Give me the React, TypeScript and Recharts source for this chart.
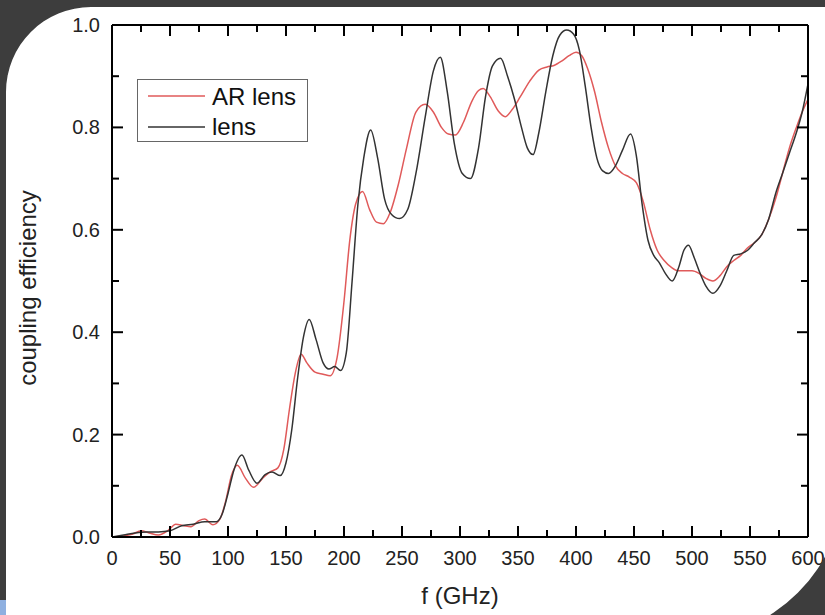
import React from "react";
import { LineChart, Line, XAxis, YAxis } from "recharts";

// AR lens (red)
const freqAR = [0, 10, 18, 25, 32, 40, 48, 55, 62, 68, 75, 80, 87, 93, 98, 103, 108, 115, 122, 130, 137, 143, 148, 153, 158, 163, 168, 175, 182, 188, 194, 200, 205, 210, 216, 222, 228, 234, 240, 247, 254, 262, 270, 277, 284, 290, 296, 303, 310, 316, 320, 326, 333, 339, 345, 352, 360, 368, 375, 381, 388, 394, 400, 405, 410, 416, 422, 428, 434, 440, 446, 452, 458, 464, 470, 476, 482, 488, 494, 500, 506, 512, 518, 524, 530, 536, 542, 548, 554, 560, 566, 572, 578, 584, 590, 595, 600];
const effAR = [0.0, 0.002, 0.006, 0.012, 0.008, 0.004, 0.012, 0.025, 0.022, 0.02, 0.032, 0.035, 0.024, 0.035, 0.07, 0.12, 0.14, 0.115, 0.097, 0.115, 0.128, 0.135, 0.17, 0.25, 0.32, 0.357, 0.34, 0.322, 0.318, 0.315, 0.35, 0.46, 0.58, 0.65, 0.675, 0.64, 0.615, 0.612, 0.635, 0.69, 0.76, 0.83, 0.845, 0.83, 0.8, 0.787, 0.785, 0.81, 0.85, 0.872, 0.876, 0.86, 0.832, 0.821, 0.835, 0.86, 0.89, 0.912, 0.918, 0.921, 0.93, 0.94, 0.947, 0.94, 0.915, 0.87, 0.81, 0.76, 0.725, 0.71, 0.703, 0.692, 0.655, 0.6, 0.56, 0.54, 0.527, 0.52, 0.52, 0.52, 0.515, 0.505, 0.5, 0.51, 0.528, 0.54, 0.55, 0.565, 0.575, 0.59, 0.62, 0.66, 0.71, 0.76, 0.8, 0.83, 0.855];

// lens (black)
const freqLens = [0, 10, 20, 30, 40, 50, 60, 70, 80, 90, 95, 100, 105, 112, 118, 125, 132, 138, 145, 150, 155, 160, 165, 170, 176, 182, 187, 192, 197, 202, 207, 212, 217, 223, 229, 235, 241, 248, 255, 262, 270, 277, 283, 289, 295, 302, 309, 316, 322, 328, 335, 341, 347, 353, 358, 363, 368, 374, 380, 386, 392, 398, 403, 408, 413, 418, 423, 428, 434, 440, 447, 452, 457, 462, 467, 472, 477, 483, 489, 493, 497, 502, 507, 512, 518, 524, 530, 536, 542, 548, 554, 560, 566, 572, 578, 584, 590, 595, 600];
const effLens = [0.0, 0.004, 0.008, 0.01, 0.01, 0.012, 0.022, 0.025, 0.03, 0.03, 0.045, 0.085, 0.13, 0.16, 0.13, 0.105, 0.122, 0.127, 0.12, 0.145, 0.21, 0.31, 0.39, 0.425, 0.385, 0.34, 0.328, 0.333, 0.325, 0.36, 0.5, 0.65, 0.74, 0.795, 0.74, 0.66, 0.63, 0.622, 0.64, 0.71, 0.82, 0.91, 0.937, 0.87, 0.77, 0.71, 0.7, 0.76, 0.86, 0.92, 0.935, 0.9, 0.855, 0.8, 0.76, 0.747, 0.79, 0.87, 0.94, 0.98, 0.99, 0.982, 0.95, 0.88, 0.8, 0.74, 0.715, 0.71, 0.725, 0.755, 0.787, 0.745, 0.65, 0.58, 0.55, 0.535, 0.515, 0.5, 0.53, 0.56, 0.57, 0.545, 0.515, 0.49, 0.476, 0.49, 0.52, 0.55, 0.553, 0.56, 0.575, 0.59, 0.62, 0.67, 0.71, 0.75, 0.79, 0.83, 0.885];

const xTicks = [0, 25, 50, 75, 100, 125, 150, 175, 200, 225, 250, 275, 300, 325, 350, 375, 400, 425, 450, 475, 500, 525, 550, 575, 600];
const yTicks = [0, 0.1, 0.2, 0.3, 0.4, 0.5, 0.6, 0.7, 0.8, 0.9, 1.0];

const seriesAR = freqAR.map((f, i) => ({ f, v: effAR[i] }));
const seriesLens = freqLens.map((f, i) => ({ f, v: effLens[i] }));

const FONT = "'Liberation Sans', Arial, sans-serif";
const MAJOR = 11;
const MINOR = 7;
const TICK_W = 2;

const isMajorX = (v: number) => v % 50 === 0;
const isMajorY = (v: number) => Math.round(v * 10) % 2 === 0;

const BottomTick = (props: any) => {
  const { x, y, payload } = props;
  const major = isMajorX(payload.value);
  return (
    <g>
      <line x1={x} x2={x} y1={y} y2={y - (major ? MAJOR : MINOR)} stroke="#000" strokeWidth={TICK_W} />
      {major && (
        <text x={x} y={y + 28} textAnchor="middle" fontSize={20} fontFamily={FONT} fill="#222">
          {payload.value}
        </text>
      )}
    </g>
  );
};

const TopTick = (props: any) => {
  const { x, y, payload } = props;
  const major = isMajorX(payload.value);
  return <line x1={x} x2={x} y1={y} y2={y + (major ? MAJOR : MINOR)} stroke="#000" strokeWidth={TICK_W} />;
};

const LeftTick = (props: any) => {
  const { x, y, payload } = props;
  const major = isMajorY(payload.value);
  return (
    <g>
      <line x1={x} x2={x + (major ? MAJOR : MINOR)} y1={y} y2={y} stroke="#000" strokeWidth={TICK_W} />
      {major && (
        <text x={x - 12} y={y + 7} textAnchor="end" fontSize={20} fontFamily={FONT} fill="#222">
          {payload.value.toFixed(1)}
        </text>
      )}
    </g>
  );
};

const RightTick = (props: any) => {
  const { x, y, payload } = props;
  const major = isMajorY(payload.value);
  return <line x1={x} x2={x - (major ? MAJOR : MINOR)} y1={y} y2={y} stroke="#000" strokeWidth={TICK_W} />;
};

const axisLine = { stroke: "#000", strokeWidth: 2 };

const App = () => {
  return (
    <div style={{ position: "absolute", left: 0, top: 0, width: 825, height: 615, background: "#fff", overflow: "hidden" }}>
      <LineChart width={825} height={615} margin={{ top: 24, right: 16, bottom: 77, left: 111 }}>
        <XAxis
          xAxisId="main"
          dataKey="f"
          type="number"
          domain={[0, 600]}
          ticks={xTicks}
          interval={0}
          height={1}
          tickSize={0}
          tickMargin={0}
          tickLine={false}
          axisLine={axisLine}
          tick={<BottomTick />}
          allowDataOverflow
        />
        <XAxis
          xAxisId="top"
          orientation="top"
          dataKey="f"
          type="number"
          domain={[0, 600]}
          ticks={xTicks}
          interval={0}
          height={1}
          tickSize={0}
          tickMargin={0}
          tickLine={false}
          axisLine={axisLine}
          tick={<TopTick />}
          allowDataOverflow
        />
        <YAxis
          yAxisId="main"
          type="number"
          domain={[0, 1]}
          ticks={yTicks}
          interval={0}
          width={1}
          tickSize={0}
          tickMargin={0}
          tickLine={false}
          axisLine={axisLine}
          tick={<LeftTick />}
          allowDataOverflow
        />
        <YAxis
          yAxisId="right"
          orientation="right"
          type="number"
          domain={[0, 1]}
          ticks={yTicks}
          interval={0}
          width={1}
          tickSize={0}
          tickMargin={0}
          tickLine={false}
          axisLine={axisLine}
          tick={<RightTick />}
          allowDataOverflow
        />
        <Line
          xAxisId="main"
          yAxisId="main"
          data={seriesAR}
          dataKey="v"
          name="AR lens"
          type="monotone"
          stroke="#e05a5a"
          strokeWidth={1.5}
          dot={false}
          activeDot={false}
          isAnimationActive={false}
        />
        <Line
          xAxisId="main"
          yAxisId="main"
          data={seriesLens}
          dataKey="v"
          name="lens"
          type="monotone"
          stroke="#333"
          strokeWidth={1.5}
          dot={false}
          activeDot={false}
          isAnimationActive={false}
        />
        <g transform="translate(137 79)">
          <rect x={0.5} y={0.5} width={170} height={62} fill="#fff" stroke="#666" strokeWidth={1} />
          <line x1={11} x2={68} y1={17} y2={17} stroke="#e05a5a" strokeWidth={1.5} />
          <text x={75} y={26} fontSize={24} fontFamily={FONT} fill="#111">AR lens</text>
          <line x1={11} x2={68} y1={48} y2={48} stroke="#333" strokeWidth={1.5} />
          <text x={75} y={56} fontSize={24} fontFamily={FONT} fill="#111">lens</text>
        </g>
        <text x={460} y={604} textAnchor="middle" fontSize={24} fontFamily={FONT} fill="#222">
          f (GHz)
        </text>
        <text
          x={36}
          y={288}
          textAnchor="middle"
          fontSize={24}
          fontFamily={FONT}
          fill="#222"
          transform="rotate(-90 36 288)"
        >
          coupling efficiency
        </text>
      </LineChart>
      <svg width={825} height={615} style={{ position: "absolute", left: 0, top: 0, pointerEvents: "none" }}>
        <path
          fillRule="evenodd"
          fill="#3d3d3d"
          d="M0 0 H825 V615 H0 Z M6 92 A85 85 0 0 1 91 7 H845 V479 A161 161 0 0 1 684 640 H6 Z"
        />
        <rect x={0} y={600} width={6} height={15} fill="#8fb0e0" />
      </svg>
    </div>
  );
};

export default App;
